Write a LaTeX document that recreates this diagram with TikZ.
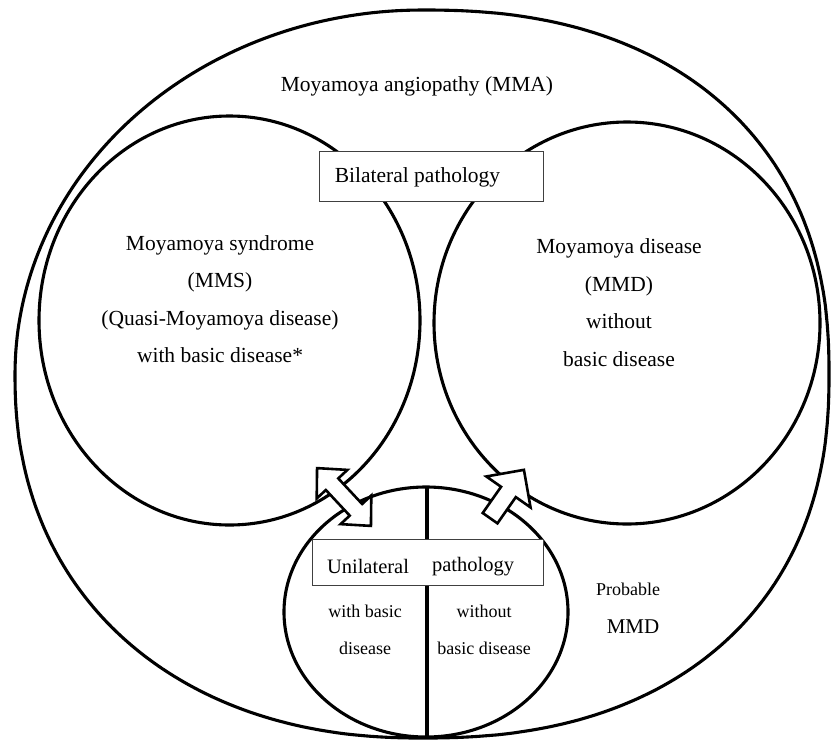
\documentclass[tikz,border=0pt]{standalone}
\usepackage{fontspec}
\setmainfont{Liberation Serif}
\begin{document}
\begin{tikzpicture}[x=1pt,y=-1pt,
  ring/.style={draw=black, line width=3.1pt},
  lbox/.style={draw=black!75, line width=1pt, fill=white, inner sep=0pt},
  blockarrow/.style={draw=black, line width=2.6pt, fill=white, line join=miter},
  big/.style={font=\fontsize{21.5}{37.5}\selectfont, align=center, inner sep=0pt},
  small/.style={font=\fontsize{18}{37}\selectfont, align=center, inner sep=0pt}]
\useasboundingbox (0,0) rectangle (832,747);
% outer rounded shape (slightly fuller than an ellipse on the right and bottom)
\draw[ring, line join=round]
  plot[domain=0.2:89.8, samples=80] ({422+407*pow(cos(\x),2/2.3)}, {374+364*pow(sin(\x),2/2.3)})
  -- plot[domain=90.2:179.8, samples=80] ({422-407*pow(-cos(\x),2/2.2)}, {374+364*pow(sin(\x),2/2.2)})
  -- plot[domain=180.2:269.8, samples=80] ({422+407*cos(\x)}, {374+364*sin(\x)})
  -- plot[domain=270.2:359.8, samples=80] ({422+407*pow(cos(\x),2/2.3)}, {374-364*pow(-sin(\x),2/2.3)})
  -- cycle;
% inner ellipses
\coordinate (mms) at (229.5,320.5);
\coordinate (mmd) at (627,323);
\coordinate (uni) at (426,612);
\draw[ring] (mms) ellipse [x radius=190.5pt, y radius=204.5pt];
\draw[ring] (mmd) ellipse [x radius=193pt, y radius=201pt];
\draw[ring] (uni) ellipse [x radius=142pt, y radius=125pt];
\coordinate (divtop) at (427,487);
\coordinate (divbot) at (427,737);
\draw[ring] (divtop) -- (divbot);
% boxes
\node[lbox, anchor=north west, minimum width=224pt, minimum height=50pt] (bilbox) at (319,151) {};
\node[lbox, anchor=north west, minimum width=231pt, minimum height=46pt] (unibox) at (312,539) {};
% block arrows
\begin{scope}[shift={(344,497)}, rotate=-47]
\draw[blockarrow] (39.5,0) -- (17.5,21) -- (17.5,8.5) -- (-17.5,8.5) -- (-17.5,21) -- (-39.5,0)
  -- (-17.5,-21) -- (-17.5,-8.5) -- (17.5,-8.5) -- (17.5,-21) -- cycle;
\end{scope}
\begin{scope}[shift={(507,494)}, rotate=55]
\draw[blockarrow] (29.5,0) -- (2.5,27) -- (2.5,9) -- (-29.5,9) -- (-29.5,-9) -- (2.5,-9) -- (2.5,-27) -- cycle;
\end{scope}
% texts
\node[big] (tmma) at (417,86) {Moyamoya angiopathy (MMA)};
\node[big] (tbil) at (417.5,177) {Bilateral pathology};
\node[big] (tmms) at (220,299) {Moyamoya syndrome\\(MMS)\\(Quasi-Moyamoya disease)\\with basic disease*};
\node[big] (tmmd) at (619,302.5) {Moyamoya disease\\(MMD)\\without\\basic disease};
\node[font=\fontsize{20.5}{24}\selectfont, inner sep=0pt] (tuni1) at (368,566) {Unilateral};
\node[font=\fontsize{20.5}{24}\selectfont, inner sep=0pt] (tuni2) at (473,567) {pathology};
\node[small] (twith) at (365,629.5) {with basic\\disease};
\node[small] (twithout) at (484,629.5) {without\\basic disease};
\node[small] (tprob) at (628,589) {Probable};
\node[font=\fontsize{21}{24}\selectfont, inner sep=0pt] (tprobmmd) at (633,627) {MMD};
\end{tikzpicture}
\end{document}
